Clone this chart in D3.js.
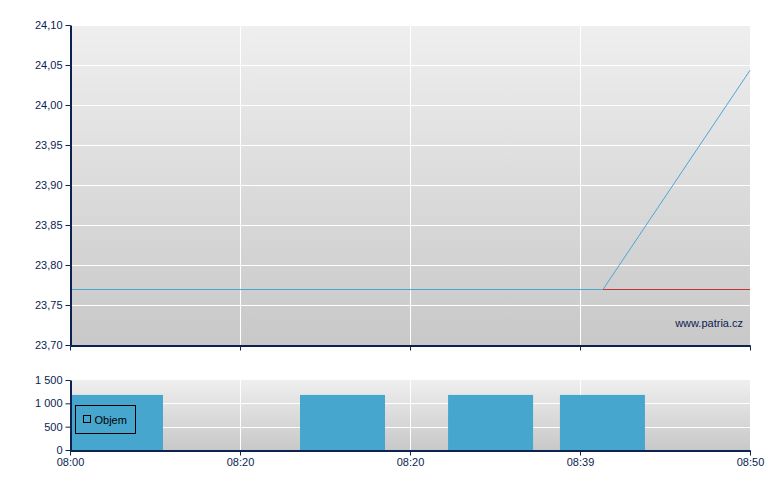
<!DOCTYPE html>
<html><head><meta charset="utf-8">
<script src="https://cdn.jsdelivr.net/npm/d3@7"></script>
<style>
body{margin:0;background:#fff;}
svg{display:block;font-family:"Liberation Sans",Arial,sans-serif;}
</style></head>
<body>
<svg id="c" width="780" height="490"></svg>
<script>
// ---- data ----
const xTickLabels = ["08:00","08:20","08:20","08:39","08:50"];
const priceTicks = [23.70,23.75,23.80,23.85,23.90,23.95,24.00,24.05,24.10];
// price line (x in axis-slot units 0..4)
const priceX = [0, 3.135, 4];
const priceY = [23.77, 23.77, 24.044];
// reference (previous close) line
const refX = [3.135, 4];
const refY = [23.77, 23.77];
// volume bars: start / end in slot units, value
const volStart = [0, 1.353, 2.224, 2.882];
const volEnd   = [0.547, 1.853, 2.724, 3.382];
const volValue = [1180, 1180, 1180, 1180];
const volTicks = [0, 500, 1000, 1500];

const svg = d3.select("#c");
const L = 70, R = 750;
const axisColor = "#0c2352";

const defs = svg.append("defs");
const g1 = defs.append("linearGradient").attr("id","bg").attr("x1",0).attr("y1",0).attr("x2",0).attr("y2",1);
g1.append("stop").attr("offset","0%").attr("stop-color","#efefef");
g1.append("stop").attr("offset","100%").attr("stop-color","#c8c8c8");

const x = d3.scaleLinear().domain([0,4]).range([L,R]);
const fmtP = d => d3.format(".2f")(d).replace(".",",");

// ---- main chart ----
const mT = 25, mB = 345;
const y = d3.scaleLinear().domain([23.70,24.10]).range([mB,mT]);
svg.append("rect").attr("x",L).attr("y",mT).attr("width",R-L).attr("height",mB-mT).attr("fill","url(#bg)");
svg.append("g").selectAll("line").data(priceTicks.slice(1)).join("line")
  .attr("x1",L).attr("x2",R).attr("y1",d=>Math.round(y(d))+0.5).attr("y2",d=>Math.round(y(d))+0.5)
  .attr("stroke","#fff").attr("stroke-width",1);
svg.append("g").selectAll("line").data([1,2,3]).join("line")
  .attr("x1",d=>Math.round(x(d))+0.5).attr("x2",d=>Math.round(x(d))+0.5).attr("y1",mT).attr("y2",mB)
  .attr("stroke","#fff").attr("stroke-width",1);

const ln = d3.line().x(d=>x(d[0])).y(d=>y(d[1]));
const lines = svg.append("g").attr("transform","translate(0,0.5)");
lines.append("path").datum(refX.map((v,i)=>[v,refY[i]])).attr("d",ln)
  .attr("fill","none").attr("stroke","#c83232").attr("stroke-width",1);
lines.append("path").datum(priceX.map((v,i)=>[v,priceY[i]])).attr("d",ln)
  .attr("fill","none").attr("stroke","#4ba6d2").attr("stroke-width",1);

svg.append("text").attr("x",743).attr("y",327).attr("text-anchor","end")
  .attr("font-size",11).attr("fill",axisColor).text("www.patria.cz");

svg.append("g").attr("transform",`translate(${L+0.5},0)`)
  .call(d3.axisLeft(y).tickValues(priceTicks).tickFormat(fmtP).tickSize(5).tickSizeOuter(0).tickPadding(3));
svg.append("g").attr("transform",`translate(0,${mB+0.5})`)
  .call(d3.axisBottom(x).tickValues([0,1,2,3,4]).tickFormat("").tickSize(5).tickSizeOuter(0));

// ---- volume chart ----
const vT = 380, vB = 450;
const yv = d3.scaleLinear().domain([0,1500]).range([vB,vT]);
svg.append("rect").attr("x",L).attr("y",vT).attr("width",R-L).attr("height",vB-vT).attr("fill","url(#bg)");
svg.append("g").selectAll("line").data(volTicks.slice(1,3)).join("line")
  .attr("x1",L).attr("x2",R).attr("y1",d=>Math.round(yv(d))+0.5).attr("y2",d=>Math.round(yv(d))+0.5)
  .attr("stroke","#fff");
svg.append("g").selectAll("line").data([1,2,3]).join("line")
  .attr("x1",d=>Math.round(x(d))+0.5).attr("x2",d=>Math.round(x(d))+0.5).attr("y1",vT).attr("y2",vB)
  .attr("stroke","#fff");
svg.append("g").selectAll("rect").data(volValue.map((v,i)=>({s:volStart[i],e:volEnd[i],v}))).join("rect")
  .attr("x",d=>x(d.s)).attr("width",d=>x(d.e)-x(d.s))
  .attr("y",d=>yv(d.v)).attr("height",d=>vB-yv(d.v)).attr("fill","#46a6cd");

const fmtV = d => d3.format(",")(d).replace(/,/g," ");
svg.append("g").attr("transform",`translate(${L+0.5},0)`)
  .call(d3.axisLeft(yv).tickValues(volTicks).tickFormat(fmtV).tickSize(5).tickSizeOuter(0).tickPadding(3));
svg.append("g").attr("transform",`translate(0,${vB+0.5})`)
  .call(d3.axisBottom(x).tickValues([0,1,2,3,4]).tickFormat((d,i)=>xTickLabels[i]).tickSize(5).tickSizeOuter(0).tickPadding(3));

svg.selectAll(".domain").attr("stroke",axisColor).attr("stroke-width",2);
svg.selectAll(".tick line").attr("stroke",axisColor);
svg.selectAll(".tick text").attr("fill",axisColor).attr("font-size",11).attr("font-family","Liberation Sans, Arial, sans-serif");

// legend
const lg = svg.append("g").attr("transform","translate(75.5,405.5)");
lg.append("rect").attr("width",60).attr("height",28).attr("fill","none").attr("stroke","#000");
lg.append("rect").attr("x",8).attr("y",10).attr("width",7).attr("height",7).attr("fill","none").attr("stroke","#000");
lg.append("text").attr("x",19).attr("y",18.5).attr("font-size",11).attr("fill","#000").text("Objem");
</script>
</body></html>
